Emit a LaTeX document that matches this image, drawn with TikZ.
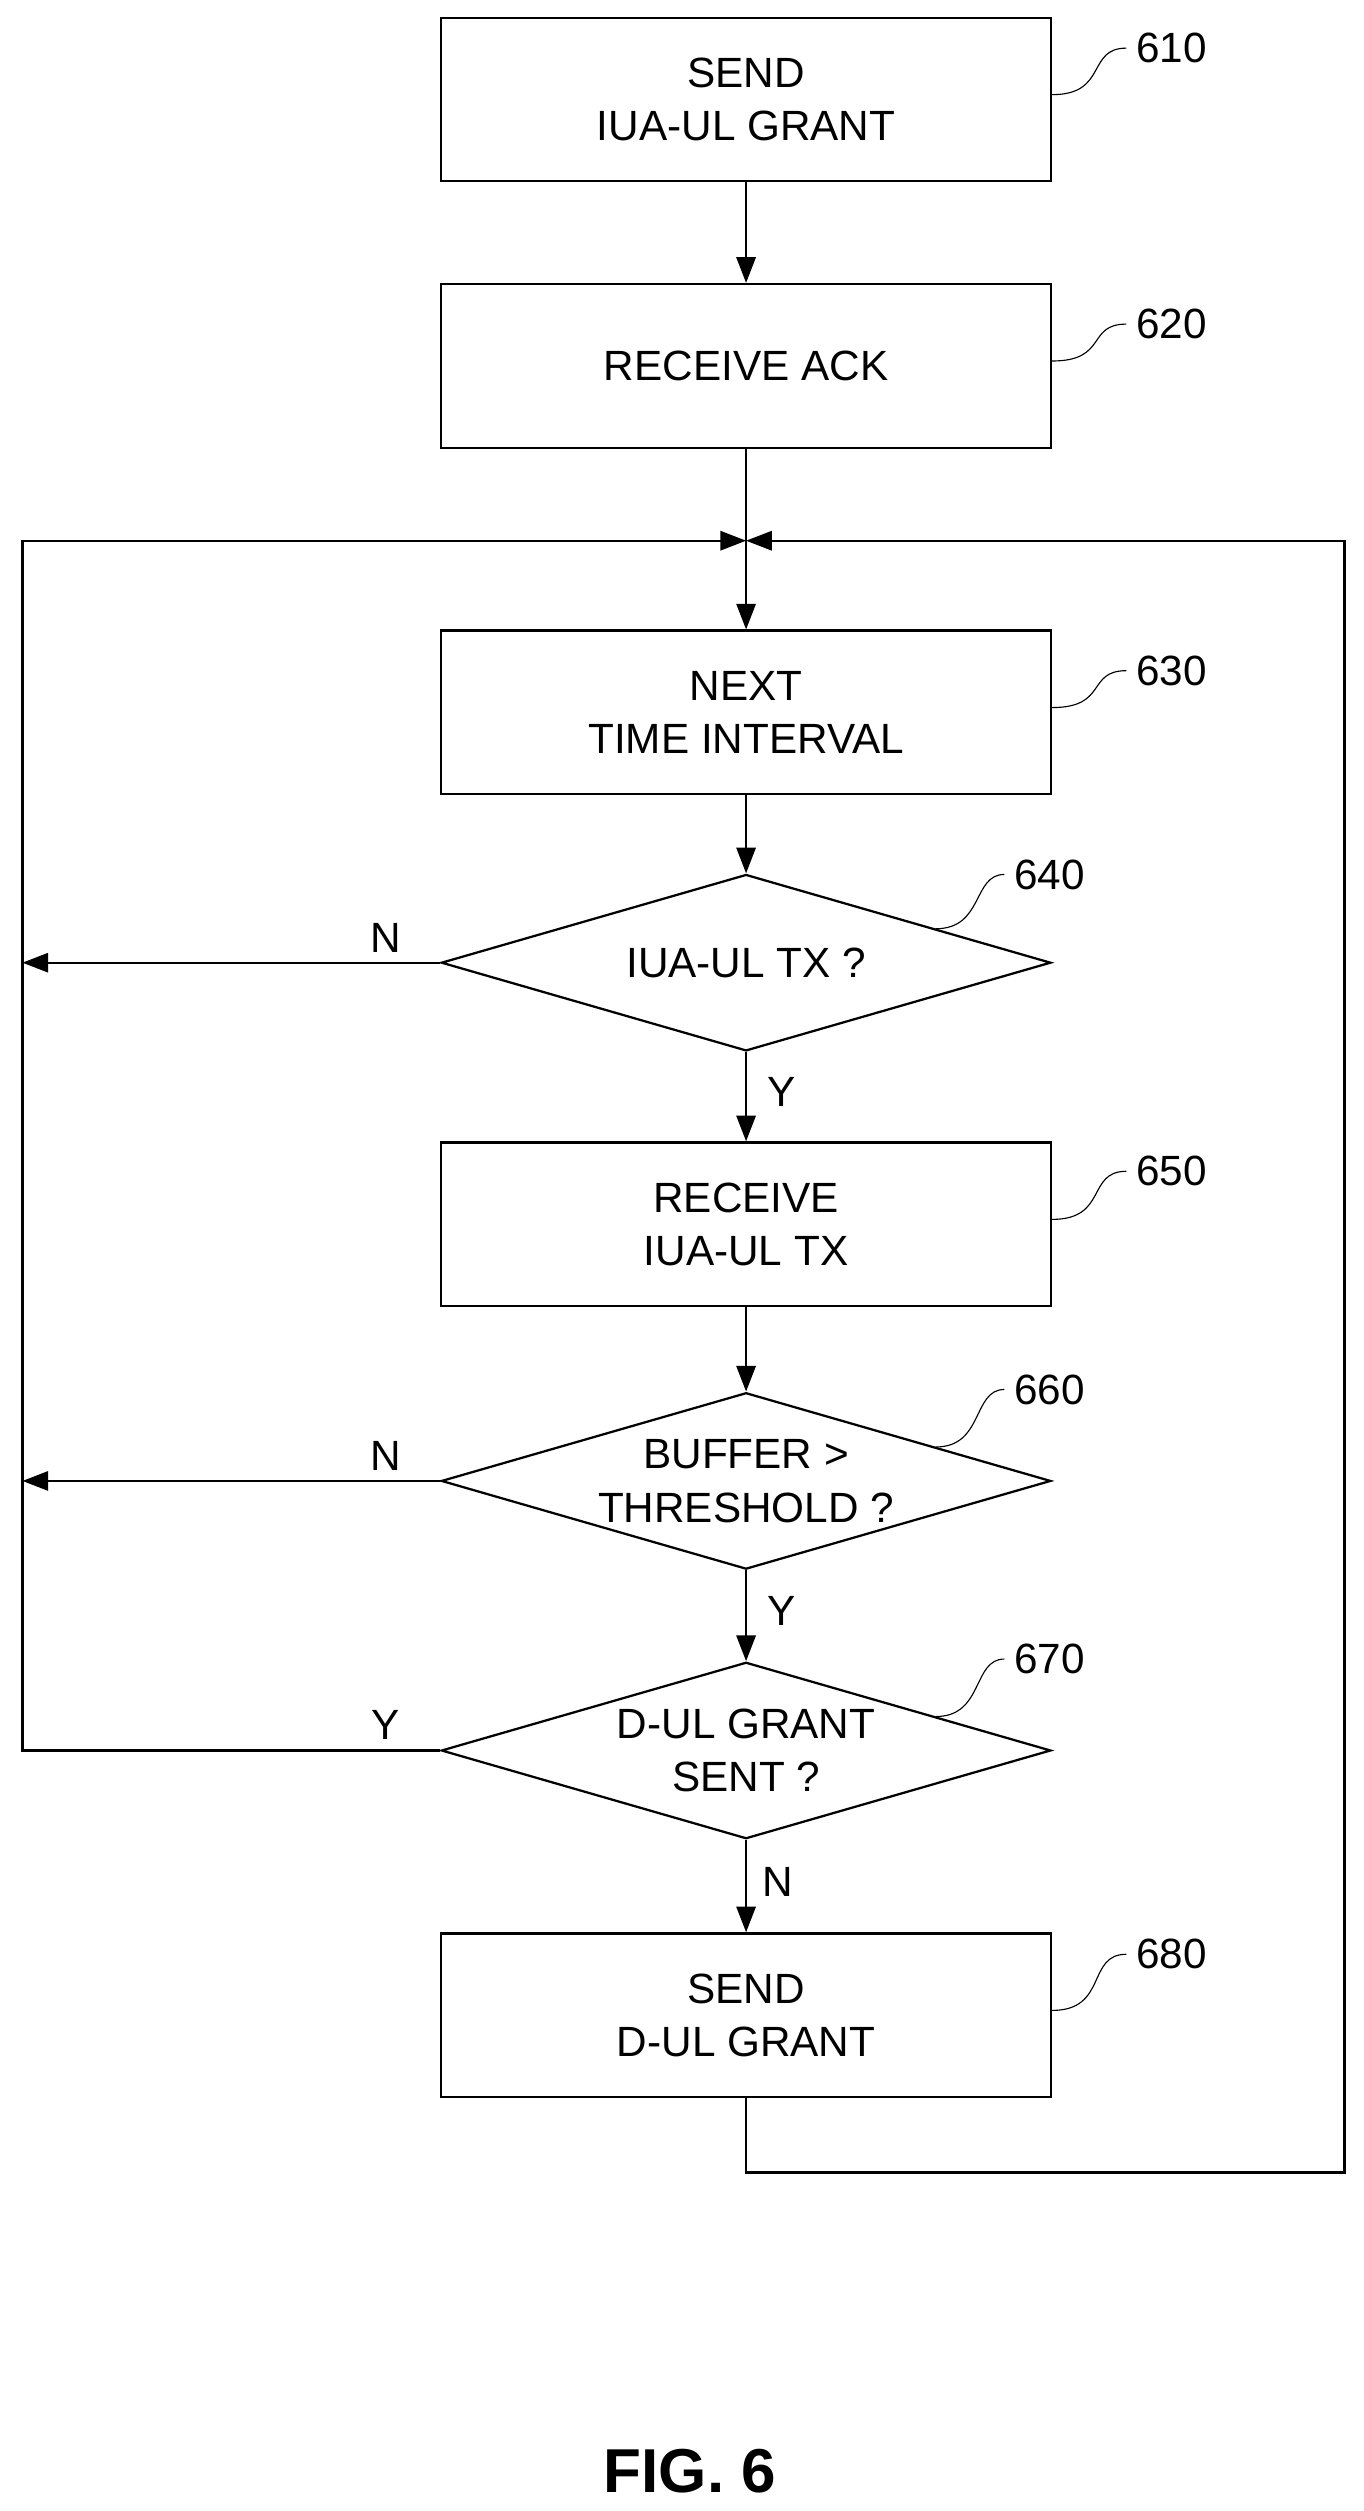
\documentclass[tikz,border=0pt]{standalone}
\usepackage{fontspec}
\setmainfont{Liberation Sans}
\usetikzlibrary{shapes.geometric, arrows.meta, positioning, calc}

\begin{document}
\begin{tikzpicture}[
    x=0.02cm, y=-0.02cm,
    every node/.style={font=\fontsize{15}{19}\selectfont},
    step_box/.style={rectangle, draw, thick, minimum width=7.6cm, minimum height=2.04cm, align=center},
    test_box/.style={diamond, draw, thick, minimum width=7.6cm, minimum height=2.2cm, inner sep=0pt, shape aspect=3.45, align=center},
    flow/.style={thick, -{Triangle[length=3.2mm, width=2.4mm]}},
    ref_line/.style={thin},
    ref_num/.style={anchor=west}
]
    \useasboundingbox (0,0) rectangle (850,1565);

    % Steps
    \node[step_box] (b610) at (465,62) {SEND\\IUA-UL GRANT};
    \node[step_box] (b620) at (465,228) {RECEIVE ACK};
    \node[step_box] (b630) at (465,444) {NEXT\\TIME INTERVAL};
    \node[test_box] (d640) at (465,600) {IUA-UL TX ?};
    \node[step_box] (b650) at (465,763) {RECEIVE\\IUA-UL TX};
    \node[test_box] (d660) at (465,923) {BUFFER \textgreater\\THRESHOLD ?};
    \node[test_box] (d670) at (465,1091) {D-UL GRANT\\SENT ?};
    \node[step_box] (b680) at (465,1256) {SEND\\D-UL GRANT};

    % Reference numerals
    \node[ref_num] (l610) at (702,30) {610};
    \node[ref_num] (l620) at (702,202) {620};
    \node[ref_num] (l630) at (702,418) {630};
    \node[ref_num] (l640) at (626,545) {640};
    \node[ref_num] (l650) at (702,730) {650};
    \node[ref_num] (l660) at (626,866) {660};
    \node[ref_num] (l670) at (626,1034) {670};
    \node[ref_num] (l680) at (702,1218) {680};
    \foreach \n in {610,620,630,650,680}
        \draw[ref_line] ($(b\n.east)+(0,-3)$) .. controls +(35,0) and +(-25,0) .. (l\n.west);
    \foreach \n in {640,660,670}
        \draw[ref_line] ($(d\n.north)!0.62!(d\n.east)$) .. controls +(30,0) and +(-20,0) .. (l\n.west);

    % Corner coordinates
    \coordinate (join) at (465,337);
    \coordinate (left_top) at (14,337);
    \coordinate (right_top) at (838,337);
    \coordinate (left640) at (14,600);
    \coordinate (left660) at (14,923);
    \coordinate (left670) at (14,1091);
    \coordinate (loop_bl) at (465,1354);
    \coordinate (loop_br) at (838,1354);

    % Main flow
    \draw[flow] (b610) -- (b620);
    \draw[flow] (b620) -- (b630);
    \draw[flow] (b630) -- (d640);
    \draw[flow] (d640) -- node[right=4pt, pos=0.45] {Y} (b650);
    \draw[flow] (b650) -- (d660);
    \draw[flow] (d660) -- node[right=4pt, pos=0.45] {Y} (d670);
    \draw[flow] (d670) -- node[right=2pt, pos=0.45] {N} (b680);

    % Side branches
    \draw[flow] (d640.west) -- node[above, pos=0.13] {N} (left640);
    \draw[flow] (d660.west) -- node[above, pos=0.13] {N} (left660);
    \draw[flow] (d670.west) -- node[above, pos=0.13] {Y} (left670) -- (left_top) -- (join);
    \draw[flow] (b680.south) -- (loop_bl) -- (loop_br) -- (right_top) -- (join);

    \node[font=\bfseries\fontsize{22}{26}\selectfont] (fig) at (430,1540) {FIG. 6};
\end{tikzpicture}
\end{document}
